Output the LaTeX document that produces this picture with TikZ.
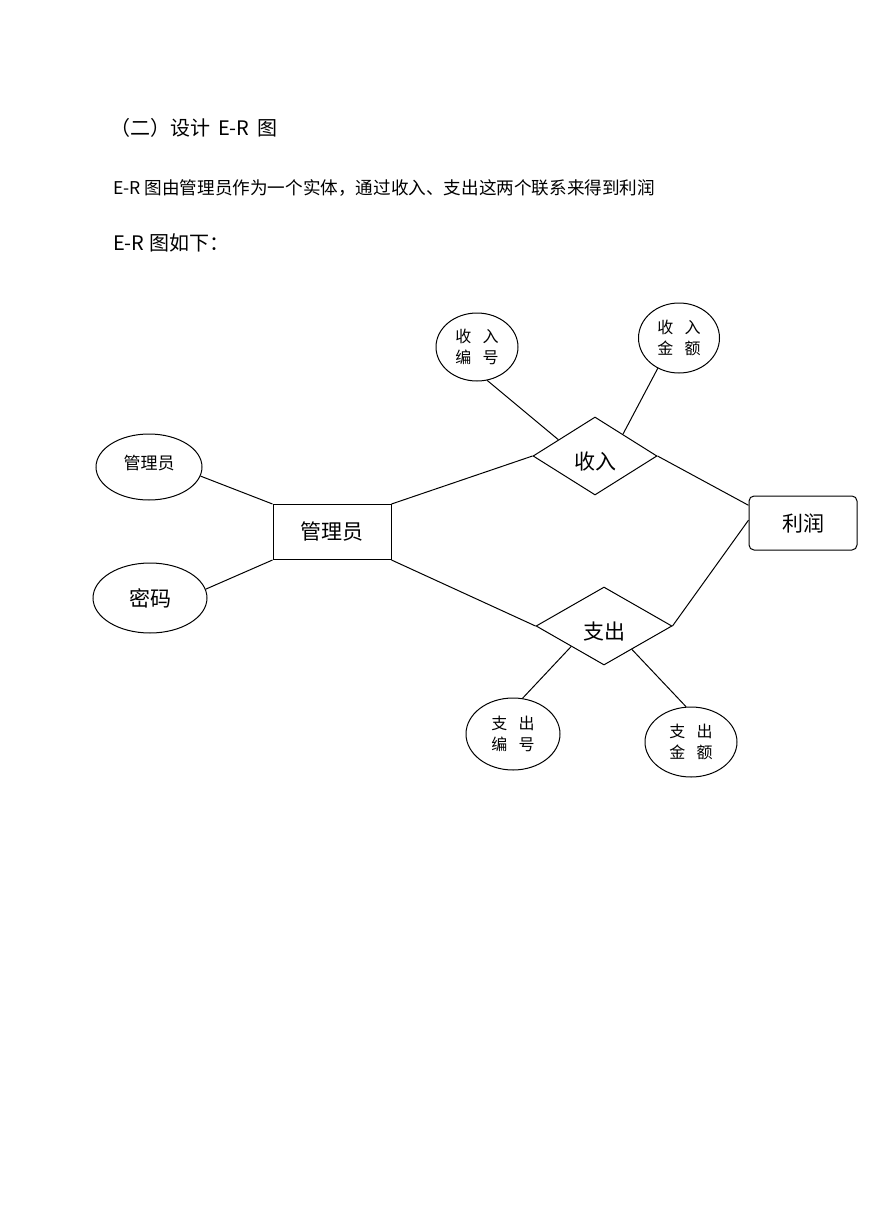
\documentclass[tikz,border=0pt]{standalone}
\usepackage{fontspec}
\setmainfont{Noto Sans CJK SC}
\usetikzlibrary{shapes.geometric}
\tikzset{
  conn/.style={draw=black, line width=1pt},
  attr/.style={ellipse, draw=black, line width=1pt, inner sep=0pt, align=center},
  ent/.style={rectangle, draw=black, line width=1pt, inner sep=0pt, font=\fontsize{21}{24}\selectfont},
  rel/.style={diamond, draw=black, line width=1pt, inner sep=0pt, font=\fontsize{21}{24}\selectfont, text height=27pt, text depth=0pt},
  para/.style={anchor=west, inner sep=0pt},
  small/.style={font=\fontsize{16}{21.5}\selectfont},
  big/.style={font=\fontsize{21}{24}\selectfont}
}
\newcommand{\gp}{\hspace{0.7em}}
\begin{document}
\begin{tikzpicture}[x=1pt, y=-1pt]
\useasboundingbox (0,0) rectangle (869,1228);
% paragraph text
\node[para, font=\fontsize{20}{24}\selectfont] (title) at (110,128) {（二）设计\hspace{0.4em}E-R\hspace{0.4em}图};
\node[para, font=\fontsize{17.6}{22}\selectfont] (intro) at (113,188) {E-R 图由管理员作为一个实体，通过收入、支出这两个联系来得到利润};
\node[para, font=\fontsize{20}{24}\selectfont] (below) at (113,243) {E-R 图如下：};
% entities
\node[ent, minimum width=118pt, minimum height=55pt] (mgr) at (332,532) {管理员};
\node[ent, rounded corners=5pt, minimum width=108pt, minimum height=54pt] (profit) at (803,523) {利润};
% relationships
\node[rel, minimum width=124pt, minimum height=78pt] (inc) at (595,456) {收入};
\node[rel, minimum width=136pt, minimum height=78pt] (exp) at (604,626) {支出};
% attributes
\node[attr, small, minimum width=82pt, minimum height=68pt] (incno) at (477,347) {收\gp 入\\编\gp 号};
\node[attr, small, minimum width=81pt, minimum height=70pt] (incamt) at (679,338) {收\gp 入\\金\gp 额};
\node[attr, minimum width=106pt, minimum height=66pt, font=\fontsize{17}{20}\selectfont, text height=12pt, text depth=8pt] (admattr) at (149,467) {管理员};
\node[attr, big, minimum width=114pt, minimum height=70pt] (pwd) at (150,598) {密码};
\node[attr, small, minimum width=94pt, minimum height=72pt] (expno) at (513,734) {支\gp 出\\编\gp 号};
\node[attr, small, minimum width=92pt, minimum height=70pt] (expamt) at (691,742) {支\gp 出\\金\gp 额};
% connectors
\draw[conn] (incno.-73) -- (inc.156);
\draw[conn] (incamt.-125) -- (inc.38);
\draw[conn] (mgr.north east) -- (inc.west);
\draw[conn] (inc.east) -- (profit.162);
\draw[conn] (profit.177) -- (exp.east);
\draw[conn] (mgr.south east) -- (exp.west);
\draw[conn] (expno.75) -- (exp.-148);
\draw[conn] (expamt.98) -- (exp.-40);
\draw[conn] (admattr.-10) -- (mgr.north west);
\draw[conn] (pwd.9) -- (mgr.south west);
\end{tikzpicture}
\end{document}
